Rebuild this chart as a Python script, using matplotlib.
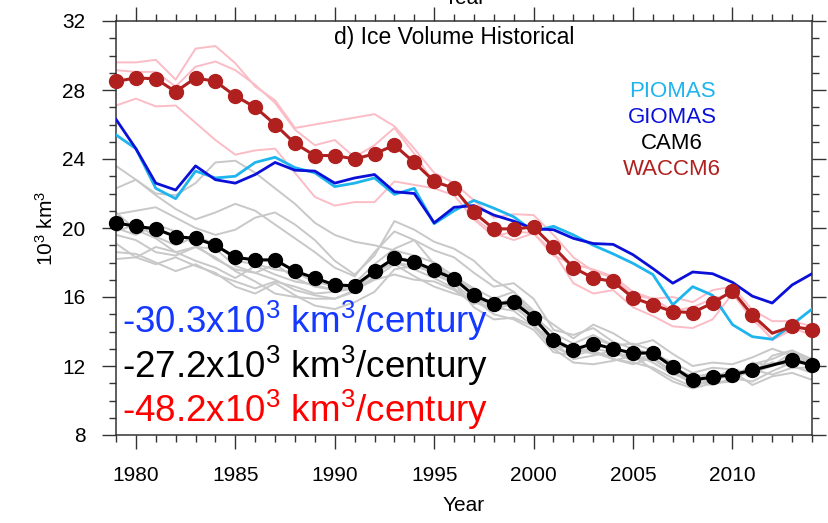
import matplotlib.pyplot as plt
import numpy as np

plt.rcParams['font.family'] = ['Liberation Sans', 'DejaVu Sans']
plt.rcParams['mathtext.fontset'] = 'custom'
plt.rcParams['mathtext.rm'] = 'Liberation Sans'
plt.rcParams['mathtext.it'] = 'Liberation Sans:italic'

years = list(range(1979, 2015))

piomas = [25.4, 24.6, 22.3, 21.7, 23.3, 22.9, 23.0, 23.8, 24.1, 23.5, 23.2, 22.4,
          22.6, 22.9, 21.95, 22.3, 20.25, 21.0, 21.6, 21.15, 20.65, 19.8,
          20.1, 19.6, 19.0, 18.5, 17.95, 17.3, 15.55, 16.6, 16.1, 14.4,
          13.7, 13.55, 14.4, 15.3]
giomas = [26.3, 24.6, 22.6, 22.2, 23.6, 22.8, 22.6, 23.1, 23.8, 23.35, 23.3, 22.6,
          22.9, 23.1, 22.1, 22.0, 20.3, 21.2, 21.3, 20.75, 20.4, 19.95,
          19.9, 19.4, 19.1, 19.05, 18.45, 17.65, 16.8, 17.45, 17.35, 16.85,
          16.05, 15.65, 16.7, 17.35]
cam6 = [20.3, 20.1, 19.95, 19.5, 19.4, 19.0, 18.3, 18.15, 18.15, 17.5, 17.1, 16.7,
        16.65, 17.5, 18.25, 18.05, 17.55, 17.05, 16.1, 15.6, 15.7, 14.8,
        13.5, 12.95, 13.3, 13.0, 12.75, 12.75, 11.95, 11.2, 11.35, 11.5,
        11.75, 12.05, 12.35, 12.05]
waccm6 = [28.5, 28.7, 28.65, 27.9, 28.7, 28.5, 27.65, 27.0, 26.0, 24.9, 24.2, 24.2,
          24.0, 24.3, 24.8, 23.8, 22.7, 22.3, 20.9, 19.95, 19.95, 20.05,
          18.9, 17.7, 17.1, 16.9, 15.95, 15.55, 15.15, 15.1, 15.65, 16.35,
          14.95, 13.9, 14.3, 14.1]

# individual ensemble members
cam6_members = [
    [23.6, 22.8, 22.0, 21.9, 22.6, 23.8, 23.9, 23.2, 22.3, 21.4, 20.3, 19.6, 19.2, 19.0, 18.7, 18.4, 18.0, 17.2,
     16.5, 15.9, 15.4, 14.6, 13.6, 13.0, 12.8, 12.4, 12.2, 11.9, 11.3, 10.8, 11.2, 11.5, 11.8, 12.2, 12.0, 11.6],
    [22.3, 22.8, 21.9, 21.1, 20.5, 20.9, 21.4, 21.0, 20.2, 19.4, 18.6, 17.7, 17.2, 18.6, 19.8, 19.3, 18.7, 18.3,
     17.4, 16.6, 16.8, 15.9, 14.1, 13.8, 14.2, 13.4, 13.0, 12.7, 12.2, 11.6, 11.9, 11.8, 11.4, 12.6, 12.9, 12.3],
    [20.8, 21.0, 21.2, 20.6, 20.0, 19.6, 19.9, 20.6, 20.9, 20.2, 19.3, 18.1, 17.3, 18.4, 20.4, 19.9, 19.2, 18.8,
     18.1, 17.0, 16.3, 15.2, 14.4, 13.6, 14.4, 13.9, 13.2, 13.5, 12.7, 12.0, 12.2, 12.1, 12.5, 13.0, 12.6, 12.2],
    [20.0, 19.6, 20.2, 19.8, 19.0, 18.2, 17.6, 17.4, 17.9, 17.1, 16.6, 16.4, 16.8, 17.9, 18.8, 19.3, 17.9, 17.0,
     16.0, 15.4, 16.0, 15.1, 13.1, 12.6, 13.6, 13.2, 12.5, 12.9, 12.0, 11.1, 10.9, 11.3, 12.1, 12.4, 12.9, 12.4],
    [19.6, 19.3, 18.6, 18.4, 18.9, 18.3, 17.5, 16.9, 16.2, 16.0, 15.9, 15.9, 16.4, 17.0, 17.3, 17.0, 16.9, 16.4,
     15.6, 15.9, 16.3, 14.9, 13.4, 12.4, 12.6, 12.9, 12.4, 12.4, 11.6, 11.0, 11.4, 11.3, 11.1, 11.7, 12.2, 12.1],
    [19.1, 18.3, 17.9, 18.3, 17.8, 17.4, 16.6, 16.2, 16.8, 16.1, 15.5, 15.3, 15.7, 16.3, 17.6, 17.8, 17.5, 16.8,
     15.4, 14.7, 14.8, 14.3, 13.0, 12.2, 12.1, 12.3, 12.6, 11.8, 11.1, 10.7, 11.0, 11.7, 10.9, 11.4, 11.6, 11.2],
    [18.6, 18.5, 18.0, 17.5, 17.9, 17.3, 16.9, 16.5, 16.9, 16.6, 16.2, 16.3, 16.5, 17.4, 18.0, 17.6, 17.1, 16.5,
     15.7, 15.3, 15.6, 14.4, 13.2, 13.0, 12.7, 12.6, 12.7, 12.2, 11.5, 11.3, 11.6, 11.4, 11.8, 11.5, 11.9, 11.9],
    [18.2, 18.3, 18.9, 18.6, 18.1, 17.7, 17.1, 17.8, 17.3, 16.9, 16.7, 16.4, 16.5, 17.1, 17.9, 17.2, 16.6, 16.2,
     15.9, 15.0, 14.7, 14.1, 12.8, 12.6, 12.9, 12.4, 12.1, 12.5, 11.7, 11.1, 11.3, 11.8, 11.6, 12.0, 12.5, 12.0],
    [19.8, 20.2, 19.5, 19.0, 19.5, 19.1, 18.1, 17.9, 17.6, 17.4, 16.9, 16.6, 16.5, 17.4, 18.0, 17.8, 17.4, 17.1,
     16.4, 15.4, 15.2, 14.3, 13.5, 12.9, 13.0, 12.8, 12.3, 12.7, 11.9, 11.4, 11.5, 11.3, 11.7, 12.2, 12.0, 12.5],
    [20.9, 19.9, 19.4, 18.6, 18.9, 18.8, 17.8, 17.4, 17.0, 16.4, 16.1, 15.9, 16.3, 17.2, 18.4, 18.0, 17.3, 16.8,
     15.8, 15.3, 15.9, 14.9, 13.9, 13.3, 13.8, 13.2, 13.3, 12.9, 12.0, 11.3, 11.0, 11.1, 12.2, 12.0, 12.8, 12.2],
]
waccm6_members = [
    [29.6, 29.6, 29.75, 28.6, 30.4, 30.55, 29.55, 28.2, 27.4, 25.8, 26.0, 26.2, 26.4, 26.6, 25.9, 24.6, 23.2, 22.6,
     21.6, 20.6, 20.8, 20.75, 19.6, 18.3, 17.5, 17.1, 16.1, 15.9, 16.0, 15.7, 16.4, 16.6, 15.25, 14.6, 14.6, 14.3],
    [29.15, 29.05, 29.05, 28.2, 29.35, 29.65, 29.15, 28.3, 27.25, 25.7, 24.8, 25.1, 24.1, 24.8, 25.8, 24.3, 22.6, 22.4,
     20.6, 19.7, 19.3, 19.7, 18.4, 17.9, 17.6, 17.2, 16.3, 15.9, 15.2, 15.4, 15.9, 16.2, 14.9, 13.5, 14.1, 14.3],
    [27.1, 27.5, 27.05, 27.1, 26.1, 25.1, 24.25, 24.5, 24.6, 23.2, 21.8, 21.3, 21.5, 21.5, 22.7, 22.5, 22.3, 21.9,
     20.5, 19.5, 19.8, 19.7, 18.6, 16.8, 16.2, 16.4, 15.4, 14.9, 14.3, 14.2, 14.7, 16.2, 14.7, 13.6, 14.2, 13.8],
]

trend_labels = ['-30.3x10$^{\\mathrm{3}}$ km$^{\\mathrm{3}}$/century',
                '-27.2x10$^{\\mathrm{3}}$ km$^{\\mathrm{3}}$/century',
                '-48.2x10$^{\\mathrm{3}}$ km$^{\\mathrm{3}}$/century']
trend_colors = ['#1438ff', 'black', '#ff0000']

legend_names = ['PIOMAS', 'GIOMAS', 'CAM6', 'WACCM6']
legend_colors = ['#1eb4ee', '#0a10d8', 'black', '#b0201f']

fig = plt.figure(figsize=(8.29, 5.23), dpi=100)
ax = fig.add_axes([116 / 829, 1 - 435 / 523, 696 / 829, 414 / 523])

for m in cam6_members:
    ax.plot(years, m, color='#c8c8c8', lw=1.4, zorder=2)
for m in waccm6_members:
    ax.plot(years, m, color='#fbbcc6', lw=1.4, zorder=2)

ax.plot(years, piomas, color=legend_colors[0], lw=2.0, zorder=3)
ax.plot(years, giomas, color=legend_colors[1], lw=2.0, zorder=3)

# no marker drawn for 2012 in the model means
marks = [i for i in range(len(years)) if years[i] != 2012]
ax.plot(years, cam6, color='black', lw=2.2, marker='o', ms=10, markevery=marks,
        zorder=4, clip_on=False)
ax.plot(years, waccm6, color=legend_colors[3], lw=2.2, marker='o', ms=10, markevery=marks,
        zorder=4, clip_on=False)

ax.set_xlim(1979, 2014)
ax.set_ylim(8, 32)
ax.set_xticks([1980, 1985, 1990, 1995, 2000, 2005, 2010])
ax.set_xticks(range(1979, 2015), minor=True)
ax.set_yticks(range(8, 33, 4))
ax.set_yticks(range(8, 33), minor=True)
ax.tick_params(which='both', direction='out', top=True, right=True, labelsize=15,
               color='#333333', width=1.0)
ax.tick_params(which='major', length=10, pad=12)
ax.tick_params(which='minor', length=5)
for s in ax.spines.values():
    s.set_color('#333333')
    s.set_linewidth(1.1)

ax.set_xlabel('Year', fontsize=15, labelpad=8)
ax.set_ylabel('10$^{\\mathrm{3}}$ km$^{\\mathrm{3}}$', fontsize=15, labelpad=4)

ax.text(0.486, 0.96, 'd) Ice Volume Historical', transform=ax.transAxes, ha='center',
        va='center', fontsize=16.5)

for i, name in enumerate(legend_names):
    ax.text(0.799, 0.829 - i * 0.0623, name, color=legend_colors[i], transform=ax.transAxes,
            ha='center', va='center', fontsize=16)

for i, lab in enumerate(trend_labels):
    ax.text(0.008, 0.275 - i * 0.1075, lab, color=trend_colors[i], transform=ax.transAxes,
            ha='left', va='center', fontsize=26.5)

# x label of the panel above, cut by the top edge
fig.text(0.561, 0.993, 'Year', fontsize=15, ha='center', va='baseline')

fig.savefig('out.png', dpi=100)
